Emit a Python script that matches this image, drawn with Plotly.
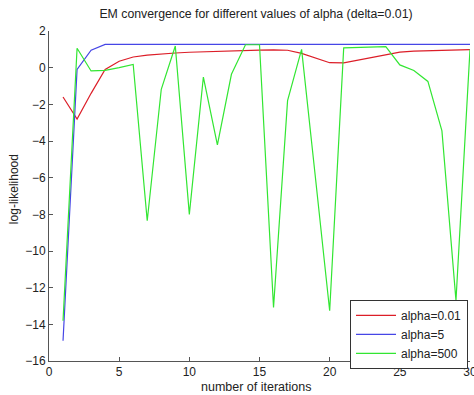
import plotly.graph_objects as go

iterations = list(range(1, 31))
alpha_001 = [-1.6, -2.8, -1.4, -0.1, 0.35, 0.58, 0.68, 0.75, 0.8, 0.84,
             0.87, 0.9, 0.92, 0.94, 0.96, 0.97, 0.95, 0.78, 0.54, 0.27,
             0.26, 0.4, 0.54, 0.72, 0.85, 0.9, 0.93, 0.95, 0.97, 0.98]
alpha_5 = [-14.9, -0.1, 0.95, 1.27, 1.27, 1.27, 1.27, 1.27, 1.27, 1.27,
           1.27, 1.27, 1.27, 1.27, 1.27, 1.27, 1.27, 1.27, 1.27, 1.27,
           1.27, 1.27, 1.27, 1.27, 1.27, 1.27, 1.27, 1.27, 1.27, 1.27]
alpha_500 = [-13.8, 1.06, -0.18, -0.15, 0.0, 0.18, -8.35, -1.18, 1.18, -8.0,
             -0.51, -4.21, -0.36, 1.25, 1.25, -13.08, -1.8, 1.0, -6.1, -13.26,
             1.08, 1.1, 1.13, 1.15, 0.15, -0.15, -0.75, -3.45, -12.7, 1.0]

series_names = ["alpha=0.01", "alpha=5", "alpha=500"]
series_colors = ["rgb(220,30,40)", "rgb(70,70,230)", "rgb(50,230,50)"]

FONT = "Liberation Sans, Arial"

fig = go.Figure()
for name, vals, col in zip(series_names, [alpha_001, alpha_5, alpha_500], series_colors):
    fig.add_trace(go.Scatter(x=iterations, y=vals, mode="lines", name=name,
                             line=dict(color=col, width=1.2)))

axis_common = dict(showline=True, linecolor="#555555", linewidth=1,
                   ticks="inside", ticklen=4, tickcolor="#555555",
                   showgrid=False, zeroline=False, mirror=False, automargin=False,
                   ticklabeloverflow="allow",
                   tickfont=dict(family=FONT, size=12, color="#222222"))

fig.update_layout(
    width=474, height=395,
    margin=dict(l=49, r=4, t=31, b=34),
    paper_bgcolor="white", plot_bgcolor="white",
    title=dict(text="EM convergence for different values of alpha (delta=0.01)",
               x=0.4917, xref="paper", xanchor="center", y=0.9646, yanchor="middle",
               yref="container",
               font=dict(family=FONT, size=12.3, color="#222222")),
    xaxis=dict(range=[0, 30], tickvals=[0, 5, 10, 15, 20, 25, 30], **axis_common),
    yaxis=dict(range=[-16, 2], tickvals=list(range(-16, 3, 2)), **axis_common),
    legend=dict(x=0.715, y=0.185, xanchor="left", yanchor="top",
                bordercolor="#333333", borderwidth=1, bgcolor="white",
                font=dict(family=FONT, size=12, color="#222222"),
                itemwidth=40, tracegroupgap=0),
    showlegend=True,
    annotations=[
        dict(text="number of iterations", xref="paper", yref="paper",
             x=0.4917, y=-0.0788, xanchor="center", yanchor="middle", showarrow=False,
             font=dict(family=FONT, size=12.5, color="#222222")),
        dict(text="log-likelihood", xref="paper", yref="paper",
             x=-0.083, y=0.521, xanchor="center", yanchor="middle", showarrow=False,
             textangle=-90, font=dict(family=FONT, size=12, color="#222222")),
    ],
)

fig.write_html("out.html", config={"displayModeBar": False},
               post_script="document.body.style.margin='0';document.body.style.overflow='hidden';")
